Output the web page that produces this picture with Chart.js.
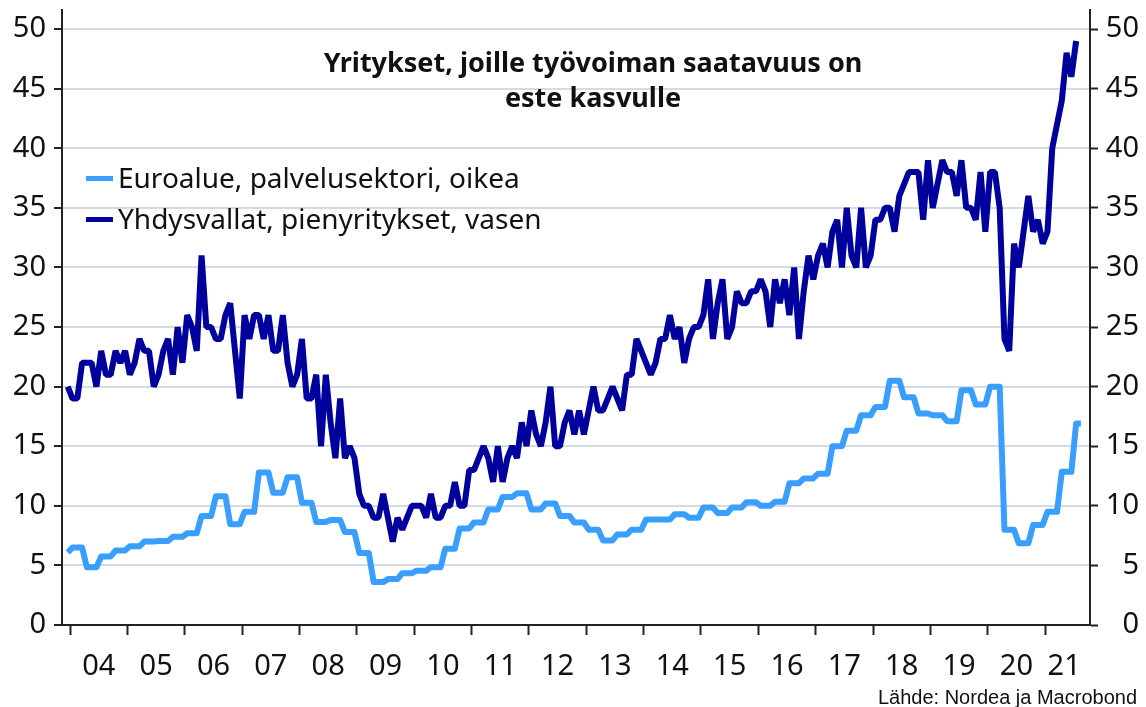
<!DOCTYPE html>
<html>
<head>
<meta charset="utf-8">
<script src="https://cdn.jsdelivr.net/npm/chart.js@4/dist/chart.umd.min.js"></script>
<style>
  body { margin: 0; background: #fff; }
  #wrap { position: relative; width: 1146px; height: 707px; }
  .title { position: absolute; left: 293px; width: 600px; top: 44px; text-align: center;
           font: bold 27px/35px 'Noto Sans'; color: #111; }
  .legend { position: absolute; left: 86px; font: 28px/34px 'Noto Sans'; color: #111; white-space: nowrap; }
  .legend span { display: inline-block; width: 27px; height: 5px; vertical-align: middle; margin-right: 5px; position: relative; top: -2px; }
  .source { position: absolute; right: 9px; top: 685px; font: 20px/24px 'Liberation Sans'; color: #111; }
</style>
</head>
<body>
<div id="wrap">
  <canvas id="chart"></canvas>
  <div class="title">Yritykset, joille työvoiman saatavuus on<br>este kasvulle</div>
  <div class="legend" style="top:160px"><span style="background:#3a9eff"></span>Euroalue, palvelusektori, oikea</div>
  <div class="legend" style="top:201px"><span style="background:#00009c"></span>Yhdysvallat, pienyritykset, vasen</div>
  <div class="source">Lähde: Nordea ja Macrobond</div>
</div>
<script>
// year labels on the x axis (2004 - 2021)
var yearLabels = ['04','05','06','07','08','09','10','11','12','13','14','15','16','17','18','19','20','21'];

// US small businesses (NFIB), monthly from Dec 2003, left axis
var usSmallBiz = [
  20,19,19,22,22,22,20,23,21,21,
  23,22,23,21,22,24,23,23,20,21,
  23,24,21,25,22,26,25,23,31,25,
  25,24,24,26,27,23,19,26,24,26,
  26,24,26,23,23,26,22,20,21,24,
  19,19,21,15,21,17,14,19,14,15,
  14,11,10,10,9,9,11,9,7,9,
  8,9,10,10,10,9,11,9,9,10,
  10,12,10,10,13,13,14,15,14,12,
  15,12,14,15,14,17,15,18,16,15,
  17,20,15,15,17,18,16,18,16,18,
  20,18,18,19,20,19,18,21,21,24,
  23,22,21,22,24,24,26,24,25,22,
  24,25,25,26,29,24,27,29,24,25,
  28,27,27,28,28,29,28,25,29,27,
  29,26,30,24,28,31,29,31,32,30,
  33,34,30,35,31,30,35,30,31,34,
  34,35,35,33,36,37,38,38,38,34,
  39,35,37,39,38,38,36,39,35,35,
  34,38,33,38,38,35,24,23,32,30,
  33,36,33,34,32,33,40,42,44,48,
  46,49
];

// Euro area services, quarterly survey shown monthly from Dec 2003, right axis
var euroServices = [
  6.1,
  6.5,6.5,6.5, 4.85,4.85,4.85, 5.75,5.75,5.75, 6.25,6.25,6.25,
  6.6,6.6,6.6, 7.0,7.0,7.0, 7.05,7.05,7.05, 7.4,7.4,7.4,
  7.7,7.7,7.7, 9.15,9.15,9.15, 10.8,10.8,10.8, 8.45,8.45,8.45,
  9.5,9.5,9.5, 12.8,12.8,12.8, 11.1,11.1,11.1, 12.4,12.4,12.4,
  10.25,10.25,10.25, 8.65,8.65,8.65, 8.8,8.8,8.8, 7.8,7.8,7.8,
  6.05,6.05,6.05, 3.6,3.6,3.6, 3.85,3.85,3.85, 4.35,4.35,4.35,
  4.55,4.55,4.55, 4.85,4.85,4.85, 6.4,6.4,6.4, 8.1,8.1,8.1,
  8.6,8.6,8.6, 9.7,9.7,9.7, 10.75,10.75,10.75, 11.05,11.05,11.05,
  9.7,9.7,9.7, 10.2,10.2,10.2, 9.15,9.15,9.15, 8.6,8.6,8.6,
  8.0,8.0,8.0, 7.1,7.1,7.1, 7.6,7.6,7.6, 8.0,8.0,8.0,
  8.85,8.85,8.85, 8.85,8.85,8.85, 9.3,9.3,9.3, 9.0,9.0,9.0,
  9.85,9.85,9.85, 9.4,9.4,9.4, 9.85,9.85,9.85, 10.3,10.3,10.3,
  10.0,10.0,10.0, 10.35,10.35,10.35, 11.9,11.9,11.9, 12.3,12.3,12.3,
  12.7,12.7,12.7, 15.0,15.0,15.0, 16.3,16.3,16.3, 17.6,17.6,17.6,
  18.3,18.3,18.3, 20.5,20.5,20.5, 19.1,19.1,19.1, 17.75,17.75,17.75,
  17.6,17.6,17.6, 17.1,17.1,17.1, 19.7,19.7,19.7, 18.5,18.5,18.5,
  20.0,20.0,20.0, 8.0,8.0,8.0, 6.85,6.85,6.85, 8.4,8.4,8.4,
  9.5,9.5,9.5, 12.85,12.85,12.85, 16.9,16.9
];

// x is months from Jan 2004, first point (Dec 2003) drawn mid-month
function toPoints(values) {
    return values.map(function (v, i) { return { x: i - 0.5, y: v }; });
}

var tickFont = { family: 'Noto Sans', size: 29 };
var axisColor = '#222';

function isLabelTick(ctx) {
    return ctx.tick && ctx.tick.yr;
}

// keep the plot area fixed, labels may hang over its edges
function noLabelPadding(scale) {
    scale.paddingTop = 0;
    scale.paddingBottom = 0;
    scale.paddingLeft = 0;
    scale.paddingRight = 0;
}

var ctx = document.getElementById('chart');

var myChart = new Chart(ctx, {
    type: 'line',
    data: {
        datasets: [
            {
                label: 'Yhdysvallat, pienyritykset, vasen',
                data: toPoints(usSmallBiz),
                yAxisID: 'y',
                borderColor: '#00009c',
                borderWidth: 6,
                borderJoinStyle: 'bevel',
                pointRadius: 0,
                order: 1
            },
            {
                label: 'Euroalue, palvelusektori, oikea',
                data: toPoints(euroServices),
                yAxisID: 'y1',
                borderColor: '#3a9eff',
                borderWidth: 6,
                borderJoinStyle: 'round',
                pointRadius: 0,
                order: 2
            }]
    },
    options: {
        responsive: true,
        maintainAspectRatio: false,
        animation: false,
        layout: { padding: { top: 10, right: 7, left: 0, bottom: 0 } },
        plugins: { legend: { display: false }, tooltip: { enabled: false } },
        scales: {
            x: {
                type: 'linear',
                min: -1.7,
                max: 213.4,
                afterBuildTicks: function (scale) {
                    var t = [];
                    yearLabels.forEach(function (lab, i) {
                        t.push({ value: i * 12 });
                        var mid = i * 12 + 6;
                        if (mid + 6 > scale.max) mid = i * 12 + 4;
                        t.push({ value: mid, yr: lab });
                    });
                    scale.ticks = t;
                },
                afterFit: function (scale) { scale.height = 82; noLabelPadding(scale); },
                ticks: {
                    autoSkip: false,
                    maxRotation: 0,
                    padding: 14,
                    font: tickFont,
                    color: '#111',
                    callback: function (value, index, ticks) {
                        return ticks[index].yr || '';
                    }
                },
                grid: {
                    drawOnChartArea: false,
                    drawTicks: true,
                    tickLength: 10,
                    tickWidth: 2,
                    color: function (c) { return isLabelTick(c) ? 'rgba(0,0,0,0)' : axisColor; },
                    tickColor: function (c) { return isLabelTick(c) ? 'rgba(0,0,0,0)' : axisColor; }
                },
                border: { display: true, color: axisColor, width: 2 }
            },
            y: {
                position: 'left',
                min: 0,
                max: 51.6,
                afterFit: function (scale) { scale.width = 62; noLabelPadding(scale); },
                ticks: { stepSize: 5, includeBounds: false, padding: 8, font: tickFont, color: '#111' },
                grid: {
                    color: function (c) { return c.tick && c.tick.value === 0 ? 'rgba(0,0,0,0)' : '#d3dce2'; },
                    lineWidth: 2,
                    tickLength: 8,
                    tickWidth: 2,
                    tickColor: axisColor
                },
                border: { display: true, color: axisColor, width: 2 }
            },
            y1: {
                position: 'right',
                min: 0,
                max: 51.6,
                afterFit: function (scale) { scale.width = 49; noLabelPadding(scale); },
                ticks: { stepSize: 5, includeBounds: false, crossAlign: 'far', font: tickFont, color: '#111' },
                grid: {
                    drawOnChartArea: false,
                    tickLength: 8,
                    tickWidth: 2,
                    tickColor: axisColor
                },
                border: { display: true, color: axisColor, width: 2 }
            }
        }
    }
});
</script>
</body>
</html>
